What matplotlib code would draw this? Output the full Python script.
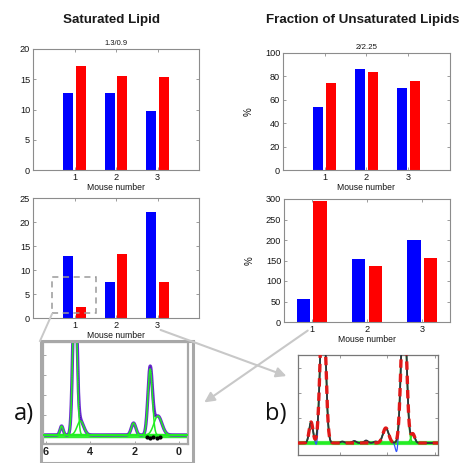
import matplotlib
matplotlib.use('Agg')
import matplotlib.pyplot as plt
import numpy as np
from matplotlib.patches import Rectangle, FancyArrowPatch

plt.rcParams['font.family'] = ['Liberation Sans', 'DejaVu Sans']

# ---------------- data ----------------
mice = [1, 2, 3]
sat_top_blue = [12.8, 12.7, 9.75]
sat_top_red = [17.2, 15.5, 15.3]
sat_bot_blue = [13.0, 7.4, 22.0]
sat_bot_red = [2.2, 13.3, 7.6]
unsat_top_blue = [54, 86, 70]
unsat_top_red = [74, 83.5, 76]
unsat_bot_blue = [55, 154, 200]
unsat_bot_red = [294, 136, 157]

sat_ticks = [0, 5, 10, 15, 20]
sat_bot_ticks = [0, 5, 10, 15, 20, 25]
pct_top_ticks = [0, 20, 40, 60, 80, 100]
pct_bot_ticks = [0, 50, 100, 150, 200, 250, 300]

# spectrum a) peak list (ppm, height, width)
a_pos = [5.30, 4.70, 4.45, 2.05, 1.30, 0.95]
a_height = [9, 160, 14, 12, 66, 19]
a_sig = [0.07, 0.09, 0.15, 0.10, 0.10, 0.18]
a_dots_x = [1.45, 1.30, 1.15, 1.00, 0.85]
a_dots_y = [-2, -3, -2, -3, -2]
a_ticks = [6, 4, 2, 0]

# spectrum b) peak list
b_pos = [5.22, 4.72, 2.07, 1.31, 0.93]
b_height = [21, 150, 15, 150, 9]
b_sig = [0.08, 0.11, 0.12, 0.11, 0.08]
b_dip_pos = [4.97, 1.60]
b_dip_height = [-9, -12]
b_dip_sig = [0.05, 0.06]
b_ripple_pos = [3.9, 3.4, 2.9, 2.5]
b_ripple_height = [1.5, 2.0, 2.5, 1.5]
b_ticks = [4, 2, 0]

BLUE = '#0000ff'
RED = '#ff0000'
SPINE = '#8c8c8c'
TXT = '#151515'

W, H = 460, 463
fig = plt.figure(figsize=(4.6, 4.63), dpi=100)


def ax_px(x0, y0, x1, y1):
    return fig.add_axes([x0 / W, 1 - y1 / H, (x1 - x0) / W, (y1 - y0) / H])


def fx(px):
    return px / W


def fy(py):
    return 1 - py / H


def bar_axes(ax, blue, red, xlim, ylim, yticks, ylabel=None):
    x = np.array(mice, dtype=float)
    ax.bar(x - 0.15, blue, width=0.24, color=BLUE, edgecolor='none')
    ax.bar(x + 0.15, red, width=0.24, color=RED, edgecolor='none')
    ax.set_xlim(*xlim)
    ax.set_ylim(*ylim)
    ax.set_xticks(mice)
    ax.set_yticks(yticks)
    ax.tick_params(direction='in', length=2.5, width=0.6, colors=SPINE,
                   labelcolor=TXT, labelsize=6.6, pad=2,
                   top=True, right=True)
    for s in ax.spines.values():
        s.set_color(SPINE)
        s.set_linewidth(0.8)
    ax.set_xlabel('Mouse number', fontsize=6.2, color=TXT, labelpad=1)
    if ylabel:
        ax.set_ylabel(ylabel, fontsize=7, color=TXT, labelpad=8)


ax_tl = ax_px(33, 49, 199, 170)
bar_axes(ax_tl, sat_top_blue, sat_top_red, (0, 4), (0, 20), sat_ticks)
ax_tl.set_title('1.3/0.9', fontsize=5.4, color=TXT, pad=3)

ax_bl = ax_px(33, 198, 199, 318)
bar_axes(ax_bl, sat_bot_blue, sat_bot_red, (0, 4), (0, 25), sat_bot_ticks)
ax_bl.add_patch(Rectangle((0.45, 1.0), 1.07, 7.6, fill=False, ls=(0, (4, 3)),
                          ec='#9a9a9a', lw=1.1, clip_on=False))

ax_tr = ax_px(283, 53, 450, 170)
bar_axes(ax_tr, unsat_top_blue, unsat_top_red, (0, 4), (0, 100), pct_top_ticks, '%')
ax_tr.set_title('2/2.25', fontsize=5.7, color=TXT, pad=3)

ax_br = ax_px(284, 199, 450, 322)
bar_axes(ax_br, unsat_bot_blue, unsat_bot_red, (0.5, 3.5), (0, 300), pct_bot_ticks, '%')

fig.text(fx(111.5), fy(20), 'Saturated Lipid', fontsize=9.6, fontweight='bold',
         ha='center', va='center', color='#1a1a1a')
fig.text(fx(363), fy(20), 'Fraction of Unsaturated Lipids', fontsize=9.6,
         fontweight='bold', ha='center', va='center', color='#1a1a1a')


def gau(x, p, h, s):
    return h * np.exp(-0.5 * ((x - p) / s) ** 2)


# ---------------- inset a ----------------
ax_a = ax_px(43, 342, 188, 444)
xa = np.linspace(6.14, -0.41, 900)
comps_a = [gau(xa, p, h, s) for p, h, s in zip(a_pos, a_height, a_sig)]
total_a = np.sum(comps_a, axis=0)
ax_a.plot(xa, np.zeros_like(xa) - 1, color='#33ee33', lw=3.2, zorder=1)
ax_a.plot(xa, total_a, color='#6a2ad0', lw=2.4, zorder=2)
ax_a.plot(xa, total_a, color='#222266', lw=0.5, ls=':', zorder=3)
for c in comps_a:
    ax_a.plot(xa, c, color='#22ee22', lw=1.1, zorder=4)
ax_a.plot(a_dots_x, a_dots_y, 'k.', ms=4, zorder=5)
ax_a.set_xlim(6.14, -0.41)
ax_a.set_ylim(-9, 93)
ax_a.set_xticks(a_ticks)
ax_a.set_yticks([0, 20, 40, 60, 80])
ax_a.set_yticklabels([])
ax_a.tick_params(direction='in', length=2, width=0.6, colors='#999999',
                 labelcolor='#222222', labelsize=7.8, pad=2)
for lbl in ax_a.get_xticklabels():
    lbl.set_fontweight('bold')
for s in ax_a.spines.values():
    s.set_color('#a8a8a8')
    s.set_linewidth(1.6)
fig.patches.append(Rectangle((fx(41), fy(463)), (193 - 41) / W, (463 - 341) / H,
                             transform=fig.transFigure, fill=False,
                             ec='#a8a8a8', lw=2.2))

# ---------------- inset b ----------------
ax_b = ax_px(298, 355, 438, 455)
xb = np.linspace(5.77, -0.13, 900)
comps_b = [gau(xb, p, h, s) for p, h, s in zip(b_pos, b_height, b_sig)]
fit_b = np.sum(comps_b, axis=0)
ripple_b = np.sum([gau(xb, p, h, 0.08) for p, h in zip(b_ripple_pos, b_ripple_height)], axis=0)
dips_b = np.sum([gau(xb, p, h, s) for p, h, s in zip(b_dip_pos, b_dip_height, b_dip_sig)], axis=0)
data_b = fit_b + ripple_b
ax_b.plot(xb, np.zeros_like(xb), color='#44ee44', lw=3, zorder=1)
for c in comps_b:
    ax_b.plot(xb, c, color='#22ee22', lw=1.2, zorder=2)
ax_b.plot(xb, data_b + dips_b, color='#3355ff', lw=0.9, zorder=3)
ax_b.plot(xb, data_b, color='#333333', lw=1.3, zorder=4)
ax_b.plot(xb, fit_b, color='#e01818', lw=2.4, ls=(0, (2.5, 1.8)), zorder=5)
ax_b.set_xlim(5.77, -0.13)
ax_b.set_ylim(-12, 88)
ax_b.set_xticks(b_ticks)
ax_b.set_xticklabels([])
ax_b.set_yticks([0, 25, 50, 75])
ax_b.set_yticklabels([])
ax_b.tick_params(direction='in', length=2, width=0.6, colors='#888888',
                 top=True, right=True)
for s in ax_b.spines.values():
    s.set_color('#777777')
    s.set_linewidth(0.9)

fig.text(fx(24), fy(414), 'a)', fontsize=17, ha='center', va='center',
         family=['Open Sans', 'DejaVu Sans'], color='#111111')
fig.text(fx(276), fy(414), 'b)', fontsize=17, ha='center', va='center',
         family=['Open Sans', 'DejaVu Sans'], color='#111111')

# ---------------- connectors ----------------
ARC = '#c8c8c8'
fig.patches.append(FancyArrowPatch((fx(158), fy(329)), (fx(289), fy(377)),
                                   transform=fig.transFigure, arrowstyle='-|>',
                                   mutation_scale=15, color=ARC, lw=1.5))
fig.patches.append(FancyArrowPatch((fx(310), fy(329)), (fx(202), fy(404)),
                                   transform=fig.transFigure, arrowstyle='-|>',
                                   mutation_scale=15, color=ARC, lw=1.5))
fig.lines.append(plt.Line2D([fx(52), fx(40)], [fy(314), fy(341)],
                            transform=fig.transFigure, color=ARC, lw=1.4))

fig.savefig('out.png', dpi=100)
